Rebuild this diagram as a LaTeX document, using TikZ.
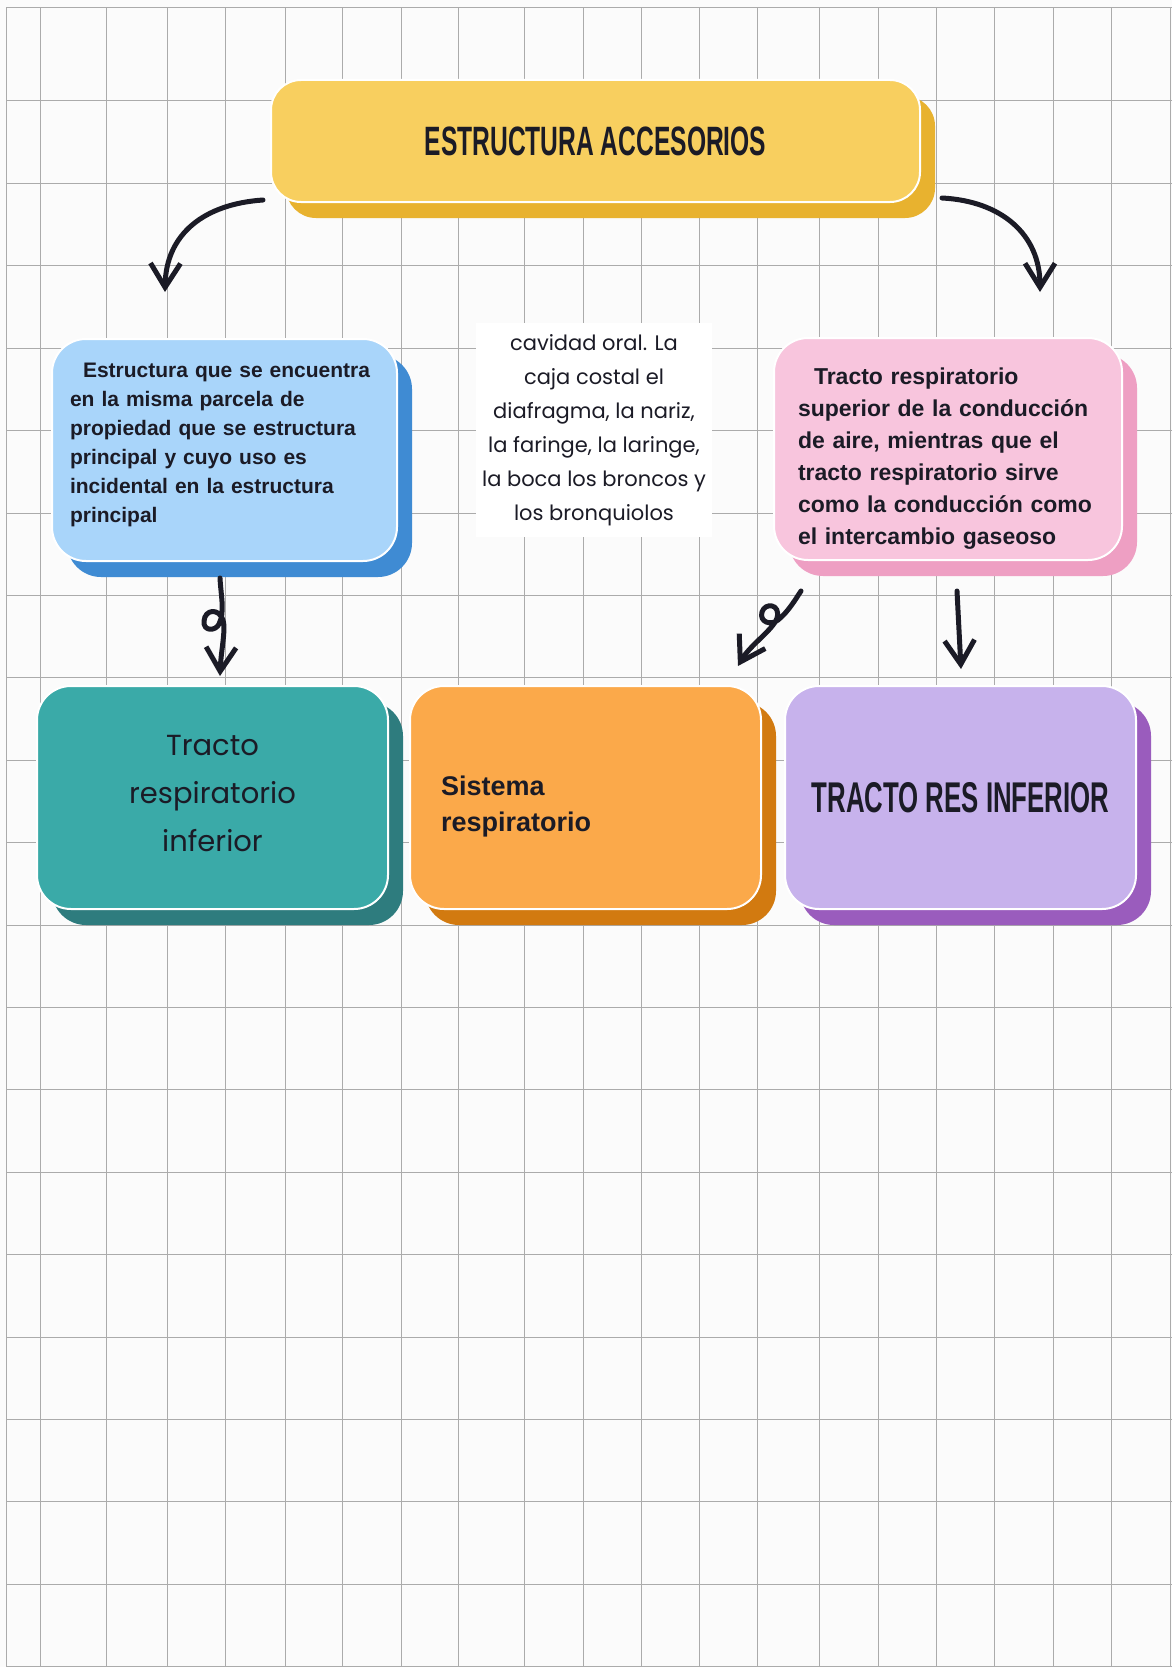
\documentclass[tikz,border=0pt]{standalone}
\usepackage{fontspec}
\setmainfont{Liberation Sans}
\newfontfamily\capsfont[FakeStretch=0.6]{Liberation Sans}
\newfontfamily\handfont{Poppins}
\usetikzlibrary{arrows.meta,shadows}

\definecolor{paper}{HTML}{FBFBFB}
\definecolor{gridgray}{HTML}{ABABAB}
\definecolor{ink}{HTML}{1B1B26}
\definecolor{yellowface}{HTML}{F8CF5F}
\definecolor{yellowside}{HTML}{E8B22F}
\definecolor{blueface}{HTML}{A9D5FA}
\definecolor{blueside}{HTML}{3F8BD3}
\definecolor{pinkface}{HTML}{F8C5DD}
\definecolor{pinkside}{HTML}{EE9FC3}
\definecolor{tealface}{HTML}{3AAAA8}
\definecolor{tealside}{HTML}{2E7C7E}
\definecolor{orangeface}{HTML}{FBA94A}
\definecolor{orangeside}{HTML}{D27A10}
\definecolor{purpleface}{HTML}{C7B2EC}
\definecolor{purpleside}{HTML}{9A5CBD}

\begin{document}
\begin{tikzpicture}[
                x=1pt, y=-1pt,
                box/.style={
                  draw=white,
                  line width=2pt,
                  rounded corners=34pt,
                  inner sep=0pt,
                  text=ink,
                  minimum width=351pt,
                  minimum height=223pt,
                },
                lift/.style={drop shadow={shadow xshift=15pt, shadow yshift=-16pt, opacity=1, fill=#1}},
                gridline/.style={gridgray, line width=1pt},
                curl/.style={->, ink, line width=5pt, line cap=round, line join=round},
                >={Straight Barb[length=24pt,width=30pt]},
              ]
              \useasboundingbox (0,0) rectangle (1172,1667);
              % squared paper
              \fill[paper] (0,0) rectangle (1172,1667);
              \foreach \gx in {6,40,106,167,225,285,342,401,458,524,583,641,699,757,819,878,936,994,1053,1111,1170}
                \draw[gridline] (\gx,8) -- (\gx,1667);
              \draw[gridline] (6,8) -- (1172,8);
              \foreach \gy in {101,183.4,...,1667}
                \draw[gridline] (6,\gy) -- (1172,\gy);

              \node[box, fill=yellowface, lift=yellowside, minimum width=649pt, minimum height=122pt, rounded corners=30pt,
                    font=\capsfont\bfseries\fontsize{41}{49}\selectfont] (top) at (595.5,141) {ESTRUCTURA ACCESORIOS};
              \node[box, fill=blueface, lift=blueside, minimum width=345pt, minimum height=222pt, text width=309pt, align=left,
                    font=\bfseries\fontsize{21}{29}\selectfont] (struct) at (224.5,450)
                    {\hspace*{13pt}Estructura que se encuentra\\ en la misma parcela de\\ propiedad que se estructura\\ principal y cuyo uso es\\ incidental en la estructura\\ principal\rule[-15pt]{0pt}{0pt}};
              \node[fill=white, minimum width=236pt, minimum height=214pt, inner sep=0pt, align=center, text=ink,
                    font=\handfont\fontsize{21}{34}\selectfont] (organs) at (594,430)
                    {cavidad oral. La\\ caja costal el\\ diafragma, la nariz,\\ la faringe, la laringe,\\ la boca los broncos y\\ los bronquiolos};
              \node[box, fill=pinkface, lift=pinkside, minimum width=348pt, minimum height=222pt, text width=300pt, align=left,
                    font=\bfseries\fontsize{23}{32}\selectfont] (upper) at (948,449)
                    {\rule{0pt}{35pt}\hspace*{16pt}Tracto respiratorio\\ superior de la conducción\\ de aire, mientras que el\\ tracto respiratorio sirve\\ como la conducción como\\ el intercambio gaseoso};
              \node[box, fill=tealface, lift=tealside, align=center,
                    font=\handfont\fontsize{29}{48}\selectfont] (lower) at (212.5,797.5) {Tracto\\ respiratorio\\ inferior\rule[-8pt]{0pt}{0pt}};
              \node[box, fill=orangeface, lift=orangeside, text width=289pt, align=left,
                    font=\bfseries\fontsize{27}{36}\selectfont] (system) at (585.5,797.5) {\rule{0pt}{37pt}Sistema\\ respiratorio};
              \node[box, fill=purpleface, lift=purpleside,
                    font=\capsfont\bfseries\fontsize{43}{50}\selectfont] (tract) at (960.5,797.5) {TRACTO RES INFERIOR};

              \draw[curl] ([shift={(-7,-3)}]top.south west) .. controls +(-59,4) and +(1,-58) .. ([shift={(-59.5,-46)}]struct.north);
              \draw[curl] ([shift={(21,-5)}]top.south east) .. controls +(59,3) and +(0,-58) .. ([shift={(92,-45)}]upper.north);
              \draw[curl] ([shift={(-4.5,16)}]struct.south) .. controls (221,597) and (225,612) .. (219,624)
                    .. controls (216,631) and (203,632) .. (204,621) .. controls (205,609) and (219,608) .. (223,620)
                    .. controls (226,630) and (221,650) .. ([shift={(7.5,-9)}]lower.north);
              \draw[curl] ([shift={(28,30)}]upper.south west) .. controls (795,600) and (788,612) .. (778,620)
                    .. controls (771,626) and (759,622) .. (762,612) .. controls (765,602) and (781,604) .. (777,618)
                    .. controls (773,630) and (750,645) .. ([shift={(-24,-19)}]system.north east);
              \draw[curl] ([shift={(9,30)}]upper.south) -- ([shift={(0.5,-16)}]tract.north);
              \end{tikzpicture}
\end{document}
